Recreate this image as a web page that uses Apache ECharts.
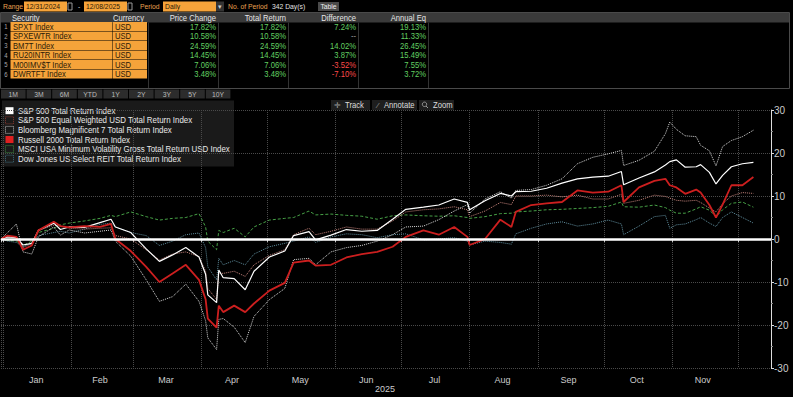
<!DOCTYPE html>
<html lang="en">
<head>
<meta charset="UTF-8">
<title>Total Return Comparison</title>
<script src="https://cdn.jsdelivr.net/npm/echarts@6.0.0/dist/echarts.min.js"></script>
<style>
    html, body { margin: 0; padding: 0; background: #000; }
    #main { width: 793px; height: 397px; }
</style>
</head>
<body>
<div id="main"></div>
<script>
// dates of the sampled points
var dates = ['2024-12-31','2025-01-03','2025-01-07','2025-01-10','2025-01-14','2025-01-17','2025-01-24','2025-01-27','2025-01-31',
    '2025-02-07','2025-02-14','2025-02-19','2025-02-21','2025-02-28','2025-03-07','2025-03-13','2025-03-19','2025-03-25','2025-03-31',
    '2025-04-03','2025-04-04','2025-04-08','2025-04-09','2025-04-11','2025-04-16','2025-04-21','2025-04-25','2025-05-02','2025-05-09',
    '2025-05-13','2025-05-20','2025-05-23','2025-05-30','2025-06-06','2025-06-13','2025-06-20','2025-06-27','2025-07-03','2025-07-11',
    '2025-07-18','2025-07-25','2025-07-31','2025-08-01','2025-08-08','2025-08-15','2025-08-20','2025-08-22','2025-08-29','2025-09-05',
    '2025-09-12','2025-09-19','2025-09-26','2025-10-03','2025-10-09','2025-10-10','2025-10-17','2025-10-24','2025-10-29','2025-10-31',
    '2025-11-03','2025-11-07','2025-11-12','2025-11-14','2025-11-18','2025-11-21','2025-11-24','2025-11-28','2025-12-03','2025-12-08'];

// cumulative total return, %
var spxt = [0,0.5,0.3,-1.4,-1.0,2.0,3.7,2.2,2.8,
    2.7,3.8,4.6,2.8,1.5,-2.3,-5.2,-3.7,-2.0,-4.2,
    -8.2,-13.0,-14.8,-7.2,-9.0,-9.2,-11.8,-7.5,-4.2,-2.8,
    0.8,1.7,-0.2,0.9,2.2,1.8,2.0,4.6,6.9,7.4,
    7.9,9.3,8.5,6.8,8.9,10.6,10.0,11.0,11.1,11.8,
    13.0,14.0,14.4,14.6,15.7,12.6,14.2,15.6,17.2,18.0,
    18.4,16.7,16.8,17.3,15.5,12.8,14.8,16.8,17.5,17.8];
var spxew = [0,0.5,0.5,-2.0,-1.0,2.0,3.2,3.0,2.5,
    2.3,2.5,2.6,0.8,0.0,-2.5,-4.9,-3.5,-3.0,-4.1,
    -7.5,-11.5,-14.1,-7.9,-8.0,-7.5,-8.7,-6.0,-3.8,-2.5,
    1.0,2.5,1.0,1.8,2.8,2.3,2.3,4.2,6.3,6.8,
    7.0,7.5,6.8,5.2,6.5,8.5,8.0,10.0,10.0,10.2,
    9.8,10.2,9.3,9.3,10.4,8.3,9.0,10.2,9.9,9.5,
    9.0,8.8,9.0,8.5,7.2,6.3,8.2,10.0,10.8,10.6];
var bm7t = [0,1.5,3.5,-3.0,-3.5,0.5,2.8,0.9,2.1,
    1.4,1.8,2.1,-0.5,-4.0,-9.5,-14.5,-13.4,-10.5,-14.5,
    -19.0,-23.0,-25.7,-18.7,-18.5,-20.5,-24.1,-18.0,-14.1,-11.5,
    -4.8,-4.5,-6.0,-3.0,-2.0,-1.5,-0.5,1.0,2.8,3.0,
    4.5,6.5,8.0,6.0,9.3,11.0,9.5,11.3,11.5,12.5,
    14.0,17.5,19.0,19.8,20.6,17.1,18.3,20.4,24.5,27.2,
    25.5,24.0,23.8,21.8,20.5,17.0,21.5,22.9,23.8,25.3];
var ru20 = [0,0.8,0.5,-2.5,-1.5,2.0,4.0,3.0,2.7,
    3.0,2.8,3.5,0.0,-2.8,-6.5,-10.0,-8.0,-6.0,-9.5,
    -14.0,-18.5,-20.6,-15.5,-17.0,-15.5,-17.0,-15.0,-12.0,-10.2,
    -5.5,-5.0,-6.2,-6.0,-4.3,-3.5,-3.0,-1.8,0.5,2.0,
    1.0,2.8,0.5,-1.4,0.0,4.5,2.8,6.3,7.9,8.3,
    8.6,11.3,10.8,11.0,12.5,8.6,12.0,13.5,14.0,12.5,
    12.0,10.5,11.5,10.8,7.9,5.0,8.0,12.5,12.5,14.4];
var minVol = [0,-0.3,-0.5,-1.5,-0.5,1.5,2.5,3.3,3.7,
    4.2,4.8,5.5,5.2,6.3,5.2,4.4,4.8,5.0,5.9,
    2.8,-0.5,-2.5,2.0,1.5,2.5,0.5,2.8,4.4,4.8,
    5.0,6.5,5.6,5.8,5.5,5.3,4.6,5.4,5.6,5.4,
    5.3,5.4,5.0,4.8,5.2,5.9,6.0,6.3,6.5,6.8,
    6.9,7.1,7.3,7.6,8.6,7.5,7.4,7.9,7.3,6.7,
    6.0,6.0,7.0,7.5,6.7,5.2,6.8,8.3,8.6,7.4];
var reit = [0,-0.5,-0.8,-1.8,-1.0,0.8,1.5,1.8,1.4,
    2.3,3.4,3.7,2.8,1.5,0.8,-1.5,-0.5,1.0,1.4,
    -2.0,-6.5,-9.5,-4.5,-6.0,-5.0,-6.0,-3.5,-1.8,-1.0,
    -0.5,0.5,-0.8,0.5,1.2,1.0,0.3,1.0,1.2,-0.2,
    0.0,0.3,-0.5,-1.4,-0.5,-0.8,-1.2,1.2,2.5,3.5,
    4.0,3.0,3.5,4.4,3.5,1.0,3.0,5.2,5.5,2.5,
    3.3,3.5,4.5,5.0,3.7,2.9,5.0,6.3,5.0,3.7];

var seriesNames = ['S&P 500 Total Return Index', 'S&P 500 Equal Weighted USD Total Return Index',
    'Bloomberg Magnificent 7 Total Return Index', 'Russell 2000 Total Return Index',
    'MSCI USA Minimum Volatility Gross Total Return USD Index', 'Dow Jones US Select REIT Total Return Index'];

// table
var tickers = ['SPXT Index', 'SPXEWTR Index', 'BM7T Index', 'RU20INTR Index', 'M00IMV$T Index', 'DWRTFT Index'];
var priceChange = ['17.82%', '10.58%', '24.59%', '14.45%', '7.06%', '3.48%'];
var totalReturn = ['17.82%', '10.58%', '24.59%', '14.45%', '7.06%', '3.48%'];
var difference = ['7.24%', '--', '14.02%', '3.87%', '-3.52%', '-7.10%'];
var annualEq = ['19.13%', '11.33%', '26.45%', '15.49%', '7.55%', '3.72%'];
var periodButtons = ['1M', '3M', '6M', 'YTD', '1Y', '2Y', '3Y', '5Y', '10Y'];

// axis labels
var monthLabels = ['Jan', 'Feb', 'Mar', 'Apr', 'May', 'Jun', 'Jul', 'Aug', 'Sep', 'Oct', 'Nov'];
var monthLabelDates = ['2025-01-16', '2025-02-14', '2025-03-16', '2025-04-15', '2025-05-16', '2025-06-15',
    '2025-07-16', '2025-08-16', '2025-09-15', '2025-10-16', '2025-11-15'];
var yearLabel = '2025';

var FONT = '"Liberation Sans", Arial, sans-serif';
var ORANGE = '#f5a33a';
var DAY = 86400000;
var X_MIN = '2024-12-31', X_MAX = '2025-12-16';
function ts(d) { return +new Date(d + 'T00:00:00'); }

function box(x, y, w, h, fill, stroke, dash) {
    return {type: 'rect', silent: true, shape: {x: x, y: y, width: w, height: h},
        style: {fill: fill || 'none', stroke: stroke || null, lineWidth: 1, lineDash: dash || null}};
}
// terminal font is narrow, so texts are squeezed horizontally
function txt(x, y, t, color, align, size, sx) {
    return {type: 'text', silent: true, x: x, y: y, scaleX: sx || 0.85,
        style: {text: t, fill: color, font: (size || 9) + 'px ' + FONT, align: align || 'left', verticalAlign: 'middle'}};
}
function vline(x, y1, y2, color) {
    return {type: 'line', silent: true, shape: {x1: x, y1: y1, x2: x, y2: y2}, style: {stroke: color, lineWidth: 1}};
}

var g = [];
// top input row
g.push(txt(3, 6.5, 'Range', '#e8a050', 'left', 8));
g.push(box(24, 1.5, 43, 10, ORANGE));
g.push(txt(26, 6.5, '12/31/2024', '#2a1a08', 'left', 8));
g.push(box(68, 3, 4, 7, null, '#999'));
g.push(txt(78, 6.5, '-', '#ddd', 'left', 8));
g.push(box(84, 1.5, 43, 10, ORANGE));
g.push(txt(86, 6.5, '12/08/2025', '#2a1a08', 'left', 8));
g.push(box(128, 3, 4, 7, null, '#999'));
g.push(txt(140, 6.5, 'Period', '#e8a050', 'left', 8));
g.push(box(163, 1.5, 53, 10, ORANGE));
g.push(txt(165, 6.5, 'Daily', '#2a1a08', 'left', 8));
g.push(box(216, 1.5, 8, 10, '#333'));
g.push(txt(220, 6.5, '▾', '#ccc', 'center', 7, 1));
g.push(txt(228, 6.5, 'No. of Period', '#e8a050', 'left', 8));
g.push(txt(272, 6.5, '342 Day(s)', '#e0e0e0', 'left', 8));
g.push(box(318, 2, 21, 9, '#4a4a4a'));
g.push(txt(328.5, 6.5, 'Table', '#eee', 'center', 8));

// table header + frame
g.push(box(1, 12.5, 788, 10, '#3a3a3a'));
g.push(box(0.5, 12.5, 789, 76, null, '#4a4a4a'));
[148, 218, 288, 358, 428].forEach(function (x) { g.push(vline(x + 0.5, 22.5, 88, '#333')); });
g.push(txt(12, 17.5, 'Security', '#e6e6e6'));
g.push(txt(113, 17.5, 'Currency', '#e6e6e6'));
g.push(txt(216, 17.5, 'Price Change', '#e6e6e6', 'right'));
g.push(txt(286, 17.5, 'Total Return', '#e6e6e6', 'right'));
g.push(txt(356, 17.5, 'Difference', '#e6e6e6', 'right'));
g.push(txt(426, 17.5, 'Annual Eq', '#e6e6e6', 'right'));

tickers.forEach(function (t, i) {
    var cy = 26.5 + i * 9.5;
    g.push(txt(6, cy, String(i + 1), '#aaa', 'center', 7));
    g.push(box(10.5, cy - 4.5, 102, 9, ORANGE));
    g.push(box(113, cy - 4.5, 34, 9, ORANGE));
    g.push(txt(13, cy, t, '#2a1a08'));
    g.push(txt(115, cy, 'USD', '#2a1a08'));
    g.push(txt(216, cy, priceChange[i], '#62d062', 'right'));
    g.push(txt(286, cy, totalReturn[i], '#62d062', 'right'));
    var d = difference[i];
    g.push(txt(356, cy, d, d === '--' ? '#999' : (d.charAt(0) === '-' ? '#ff4a4a' : '#62d062'), 'right'));
    g.push(txt(426, cy, annualEq[i], '#62d062', 'right'));
});

// period buttons
periodButtons.forEach(function (b, i) {
    g.push(box(1 + i * 25.6, 89.5, 24.6, 9, '#2c2c2c'));
    g.push(txt(13.3 + i * 25.6, 94, b, '#bbb', 'center', 8));
});

// legend panel
var legendIcons = [
    {fill: '#ffffff', stroke: null},
    {fill: null, stroke: '#8a3a30'},
    {fill: null, stroke: '#bbbbbb'},
    {fill: '#e02020', stroke: null},
    {fill: null, stroke: '#3d8a3d'},
    {fill: null, stroke: '#3d6d7d'}
];
g.push(box(2, 100.5, 232, 66, 'rgba(30,30,30,0.85)'));
seriesNames.forEach(function (n, i) {
    var cy = 110.7 + i * 9.6;
    var ic = legendIcons[i];
    g.push(box(5.5, cy - 3.5, 8, 7, ic.fill, ic.stroke, ic.stroke ? [1, 1] : null));
    g.push(txt(18, cy, n, '#e8e8e8', 'left', 9, 0.88));
});

// toolbar
g.push(box(331, 100, 39, 10, '#1e1e1e'));
g.push(txt(337, 105, '✛', '#999', 'center', 8, 1));
g.push(txt(345, 105, 'Track', '#ddd'));
g.push(box(372, 100, 45, 10, '#1e1e1e'));
g.push(txt(378, 105, '⁄', '#999', 'center', 8, 1));
g.push(txt(384, 105, 'Annotate', '#ddd'));
g.push(box(419, 100, 35, 10, '#1e1e1e'));
g.push({type: 'circle', silent: true, shape: {cx: 424.5, cy: 104.3, r: 2.2}, style: {fill: 'none', stroke: '#999', lineWidth: 1}});
g.push({type: 'line', silent: true, shape: {x1: 426, y1: 106, x2: 428, y2: 108}, style: {stroke: '#999', lineWidth: 1}});
g.push(txt(433, 105, 'Zoom', '#ddd'));

// year under the axis
g.push(txt(395, 389, yearLabel, '#ccc', 'right', 9, 1));

function pairs(arr) { return dates.map(function (d, i) { return [d, arr[i]]; }); }

var lineDefs = [
    {name: seriesNames[5], data: reit, color: '#5e8c9c', type: 'dotted', width: 1},
    {name: seriesNames[4], data: minVol, color: '#46a046', type: [3, 2], width: 1},
    {name: seriesNames[1], data: spxew, color: '#c4827a', type: 'dotted', width: 1},
    {name: seriesNames[2], data: bm7t, color: '#d8d8d8', type: 'dotted', width: 1},
    {name: seriesNames[0], data: spxt, color: '#ffffff', type: 'solid', width: 1.2},
    {name: seriesNames[3], data: ru20, color: '#cc1f1f', type: 'solid', width: 1.8}
];

var series = lineDefs.map(function (s) {
    return {
        name: s.name, type: 'line', xAxisIndex: 0, data: pairs(s.data), showSymbol: false, symbol: 'none',
        lineStyle: {color: s.color, width: s.width, type: s.type}, z: 3
    };
});
series[0].markLine = {
    silent: true, symbol: 'none', label: {show: false},
    lineStyle: {color: '#ffffff', width: 2.5, type: 'solid'},
    data: [{yAxis: 0}]
};

var chart = echarts.init(document.getElementById('main'), null, {renderer: 'svg'});
chart.setOption({
    backgroundColor: '#000',
    animation: false,
    textStyle: {fontFamily: FONT},
    grid: {left: 1, right: 22, top: 110, bottom: 29},
    xAxis: [{
        type: 'time', min: X_MIN, max: X_MAX,
        splitNumber: 12, minInterval: 28 * DAY, maxInterval: 31 * DAY,
        offset: 6,
        axisLine: {lineStyle: {color: '#bbb'}},
        axisTick: {show: true, length: 3, lineStyle: {color: '#bbb'}},
        axisLabel: {show: false},
        splitLine: {show: true, lineStyle: {color: '#4a4a4a', type: 'dotted'}}
    }, {
        // label-only axis: month names centred inside each month
        type: 'value', min: ts(X_MIN), max: ts(X_MAX), offset: 6, position: 'bottom',
        axisLine: {show: false}, axisTick: {show: false}, splitLine: {show: false},
        axisLabel: {
            color: '#ccc', fontSize: 9, margin: 1,
            customValues: monthLabelDates.map(ts),
            formatter: function (v) { return monthLabels[new Date(v).getMonth()] || ''; }
        }
    }],
    yAxis: {
        type: 'value', position: 'right', min: -30, max: 30, interval: 10,
        axisLine: {show: true, lineStyle: {color: '#ddd'}},
        axisTick: {show: true, length: 3, lineStyle: {color: '#ddd'}},
        minorTick: {show: true, splitNumber: 2, length: 2, lineStyle: {color: '#888'}},
        axisLabel: {color: '#ccc', fontSize: 10, margin: 3},
        splitLine: {lineStyle: {color: '#4a4a4a', type: 'dotted'}}
    },
    series: series,
    graphic: g
});
</script>
</body>
</html>
